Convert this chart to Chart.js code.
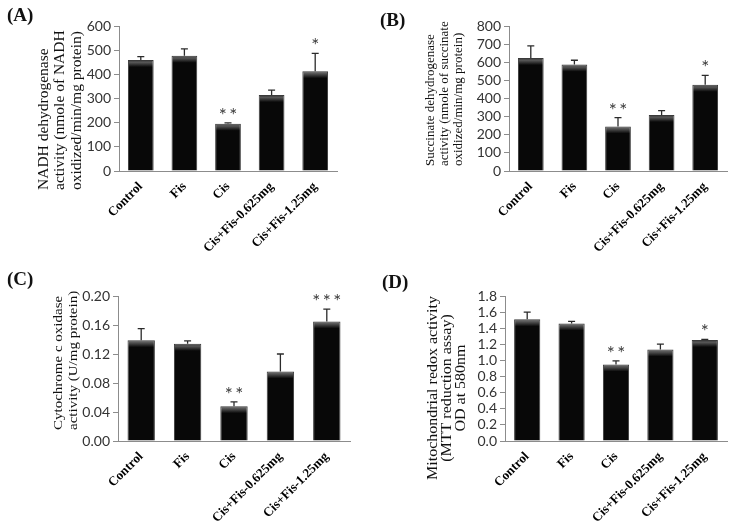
<!DOCTYPE html>
<html><head><meta charset="utf-8">
<script src="https://cdn.jsdelivr.net/npm/chart.js@4.4.0/dist/chart.umd.min.js"></script>
<style>
html,body{margin:0;padding:0;background:#fff;}
#wrap{position:relative;width:730px;height:526px;overflow:hidden;background:#fff;}
canvas{position:absolute;}
.lbl{position:absolute;font:bold 19px "Liberation Serif";line-height:19px;color:#111;}
</style></head><body>
<div id="wrap">
<canvas id="cA" width="365" height="260" style="left:0;top:0"></canvas>
<canvas id="cB" width="365" height="260" style="left:365px;top:0"></canvas>
<canvas id="cC" width="365" height="266" style="left:0;top:260px"></canvas>
<canvas id="cD" width="365" height="266" style="left:365px;top:260px"></canvas>
<div class="lbl" style="left:7px;top:5px">(A)</div>
<div class="lbl" style="left:380px;top:10px">(B)</div>
<div class="lbl" style="left:7px;top:269px">(C)</div>
<div class="lbl" style="left:382px;top:272px">(D)</div>
</div>
<script>
const categories = ['Control', 'Fis', 'Cis', 'Cis+Fis-0.625mg', 'Cis+Fis-1.25mg'];

const valuesA = [459, 477, 196, 314, 413];
const errorsA = [14, 28, 3, 21, 74];
const signifA = ['', '', '**', '', '*'];
const yTicksA = [0, 100, 200, 300, 400, 500, 600];
const yTickLabelsA = ['0', '100', '200', '300', '400', '500', '600'];
const yTitleA = ['NADH dehydrogenase', 'activity (nmole of NADH', 'oxidized/min/mg protein)'];

const valuesB = [623, 587, 246, 309, 476];
const errorsB = [67, 24, 48, 24, 52];
const signifB = ['', '', '**', '', '*'];
const yTicksB = [0, 100, 200, 300, 400, 500, 600, 700, 800];
const yTickLabelsB = ['0', '100', '200', '300', '400', '500', '600', '700', '800'];
const yTitleB = ['Succinate dehydrogenase', 'activity (nmole of succinate', 'oxidized/min/mg protein)'];

const valuesC = [0.139, 0.134, 0.048, 0.096, 0.165];
const errorsC = [0.016, 0.004, 0.006, 0.024, 0.017];
const signifC = ['', '', '**', '', '***'];
const yTicksC = [0, 0.04, 0.08, 0.12, 0.16, 0.20];
const yTickLabelsC = ['0.00', '0.04', '0.08', '0.12', '0.16', '0.20'];
const yTitleC = ['Cytochrome c oxidase', 'activity (U/mg protein)'];

const valuesD = [1.51, 1.46, 0.95, 1.136, 1.253];
const errorsD = [0.09, 0.025, 0.045, 0.066, 0.008];
const signifD = ['', '', '**', '', '*'];
const yTicksD = [0, 0.2, 0.4, 0.6, 0.8, 1.0, 1.2, 1.4, 1.6, 1.8];
const yTickLabelsD = ['0.0', '0.2', '0.4', '0.6', '0.8', '1.0', '1.2', '1.4', '1.6', '1.8'];
const yTitleD = ['Mitochondrial redox activity', '(MTT reduction assay)', 'OD at 580nm'];

const errPlugin = {
  id: 'errStars',
  afterDatasetsDraw(chart, args, o) {
    const ctx = chart.ctx, meta = chart.getDatasetMeta(0), ys = chart.scales.y;
    const vals = chart.data.datasets[0].data;
    o.errors.forEach((e, i) => {
      const x = meta.data[i].x;
      const y0 = ys.getPixelForValue(vals[i]);
      const y1 = ys.getPixelForValue(vals[i] + e);
      ctx.save();
      ctx.strokeStyle = '#2b2b2b'; ctx.lineWidth = 1.3;
      ctx.beginPath();
      ctx.moveTo(x, y0); ctx.lineTo(x, y1);
      ctx.moveTo(x - 3.5, y1); ctx.lineTo(x + 3.5, y1);
      ctx.stroke();
      if (o.stars[i]) {
        ctx.fillStyle = '#3c3c3c'; ctx.font = '19px Lato';
        ctx.textAlign = 'center'; ctx.textBaseline = 'alphabetic';
        ctx.fillText(o.stars[i].split('').join('\u2009'), x, y1 - 1);
      }
      ctx.restore();
    });
  }
};

const yTitlePlugin = {
  id: 'yTitle',
  afterDraw(chart, args, o) {
    const ctx = chart.ctx;
    ctx.save();
    ctx.fillStyle = '#111';
    ctx.font = o.size + 'px "Liberation Serif"';
    ctx.textBaseline = 'middle';
    ctx.textAlign = o.align === 'start' ? 'left' : 'center';
    o.lines.forEach((t, i) => {
      ctx.save();
      ctx.translate(o.x + i * o.lh, o.y);
      ctx.rotate(-Math.PI / 2);
      ctx.scale(1, o.squash);
      ctx.fillText(t, 0, 0);
      ctx.restore();
    });
    ctx.restore();
  }
};

function barFill(c) {
  const chart = c.chart;
  if (!chart.chartArea || !c.parsed) return '#0a0a0a';
  const y = chart.scales.y.getPixelForValue(c.parsed.y);
  const g = chart.ctx.createLinearGradient(0, y, 0, y + 7);
  g.addColorStop(0, '#2a2a2a');
  g.addColorStop(0.3, '#5a5a5a');
  g.addColorStop(1, '#080808');
  return g;
}

function makeChart(id, vals, errs, stars, ticks, tickLabels, geom, title) {
  return new Chart(document.getElementById(id), {
    type: 'bar',
    data: {
      labels: categories,
      datasets: [{ data: vals, backgroundColor: barFill, borderColor: '#3a3a3a', borderWidth: 1,
        barPercentage: 0.59, categoryPercentage: 1 }]
    },
    options: {
      responsive: false, animation: false, events: [],
      layout: { autoPadding: false, padding: { left: 0, right: geom.right, top: geom.top, bottom: 0 } },
      plugins: { legend: { display: false }, tooltip: { enabled: false },
        yTitle: title, errStars: { errors: errs, stars: stars } },
      scales: {
        x: {
          grid: { display: false, drawTicks: false },
          border: { color: '#8c8c8c', width: 1 },
          ticks: { autoSkip: false, maxRotation: 45, minRotation: 45, padding: 8, color: '#000',
            font: { family: 'Liberation Serif', weight: 'bold', size: 13 } },
          afterFit(s) { s.height = geom.xh; }
        },
        y: {
          min: ticks[0], max: ticks[ticks.length - 1],
          afterBuildTicks(s) { s.ticks = ticks.map(v => ({ value: v })); },
          grid: { drawOnChartArea: false, tickLength: 5, color: '#8c8c8c' },
          border: { color: '#8c8c8c' },
          ticks: { autoSkip: false, padding: 3, color: '#333', font: { family: 'Lato', size: 14 },
            callback: (v, i) => tickLabels[i] },
          afterFit(s) { s.width = geom.left; }
        }
      }
    },
    plugins: [errPlugin, yTitlePlugin]
  });
}

makeChart('cA', valuesA, errorsA, signifA, yTicksA, yTickLabelsA,
  { left: 119, right: 28, top: 26, xh: 89 },
  { lines: yTitleA, size: 15.5, lh: 16.75, x: 43.5, y: 190, align: 'start', squash: 1 });
makeChart('cB', valuesB, errorsB, signifB, yTicksB, yTickLabelsB,
  { left: 144, right: 3, top: 26, xh: 89 },
  { lines: yTitleB, size: 13, lh: 14, x: 66, y: 166, align: 'start', squash: 1 });
makeChart('cC', valuesC, errorsC, signifC, yTicksC, yTickLabelsC,
  { left: 118, right: 15, top: 36, xh: 85 },
  { lines: yTitleC, size: 15, lh: 14.5, x: 59, y: 170, align: 'start', squash: 0.85 });
makeChart('cD', valuesD, errorsD, signifD, yTicksD, yTickLabelsD,
  { left: 140, right: 3, top: 36, xh: 85 },
  { lines: yTitleD, size: 16, lh: 14, x: 68, y: 128, align: 'center', squash: 0.85 });
</script>
</body></html>
